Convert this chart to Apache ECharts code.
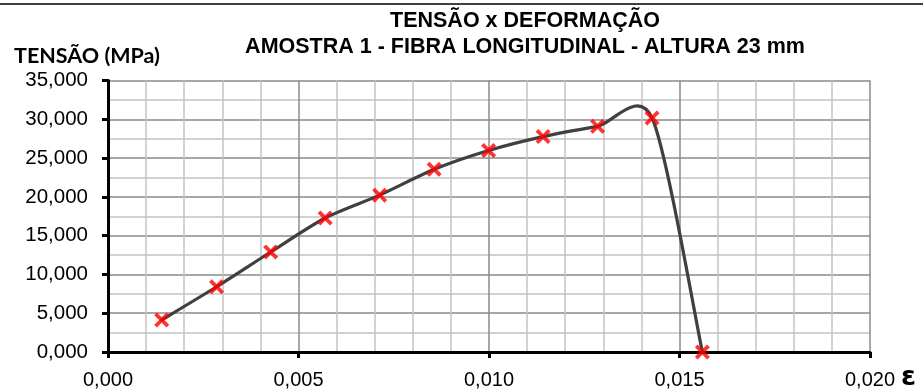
<!DOCTYPE html>
<html>
<head>
<meta charset="utf-8">
<script src="https://cdn.jsdelivr.net/npm/echarts@6/dist/echarts.min.js"></script>
<style>html,body{margin:0;padding:0;background:#fff}#c{width:923px;height:390px}</style>
</head>
<body>
<div id="c"></div>
<script>
// Data
const strain = [0.00141, 0.00285, 0.00427, 0.00570, 0.00713, 0.00856, 0.00999, 0.01142, 0.01285, 0.01428, 0.01560];
const stress = [4.13, 8.41, 12.89, 17.28, 20.22, 23.55, 25.98, 27.77, 29.09, 30.16, 0.0];
const xTicks = [0, 0.005, 0.010, 0.015, 0.020];
const yTicks = [0, 5, 10, 15, 20, 25, 30, 35];
const titleLines = ['TENSÃO x DEFORMAÇÃO', 'AMOSTRA 1 - FIBRA LONGITUDINAL - ALTURA 23 mm'];
const yName = 'TENSÃO (MPa)';
const xName = 'ε';

const pts = strain.map((x, i) => [x, stress[i]]);
const TENSION = 0.135;
const fmt = v => v.toFixed(3).replace('.', ',');

const chart = echarts.init(document.getElementById('c'), null, {renderer: 'canvas'});
chart.setOption({
  animation: false,
  backgroundColor: '#fff',
  title: {
    text: titleLines.join('\n'),
    left: 525, top: 8, textAlign: 'center', padding: 0,
    textStyle: {fontFamily: '"Liberation Sans", Arial, sans-serif', fontWeight: 'bold', fontSize: 21.5, lineHeight: 26, color: '#000'}
  },
  graphic: [
    {type: 'line', shape: {x1: 0, y1: 4, x2: 923, y2: 4}, style: {stroke: '#000', lineWidth: 1.5}},
    {type: 'text', left: 14, top: 45, style: {text: yName, font: 'bold 21.5px Lato, "Open Sans", sans-serif', fill: '#000'}},
    {type: 'text', left: 901, top: 364, style: {text: xName, font: 'bold 27px "DejaVu Sans", sans-serif', fill: '#000'}}
  ],
  grid: {left: 108, right: 53, top: 80.5, bottom: 36, containLabel: false},
  xAxis: {
    type: 'value', min: xTicks[0], max: xTicks[xTicks.length - 1], interval: xTicks[1] - xTicks[0],
    axisLine: {show: true, lineStyle: {color: '#000', width: 3}},
    axisTick: {show: true, length: 6, lineStyle: {color: '#000', width: 3}},
    axisLabel: {formatter: fmt, margin: 18, color: '#000', fontSize: 20, fontFamily: '"Liberation Sans Narrow", "Arial Narrow", "Liberation Sans", sans-serif'},
    splitLine: {show: true, lineStyle: {color: '#8a8a8a', width: 1.5}},
    minorTick: {show: false, splitNumber: 5},
    minorSplitLine: {show: true, lineStyle: {color: '#c4c4c4', width: 1.5}}
  },
  yAxis: {
    type: 'value', min: yTicks[0], max: yTicks[yTicks.length - 1], interval: yTicks[1] - yTicks[0],
    axisLine: {show: true, lineStyle: {color: '#000', width: 3}},
    axisTick: {show: true, length: 6, lineStyle: {color: '#000', width: 3}},
    axisLabel: {formatter: fmt, margin: 20, color: '#000', fontSize: 20.5, fontFamily: '"Liberation Sans", Arial, sans-serif'},
    splitLine: {show: true, lineStyle: {color: '#8a8a8a', width: 1.5}},
    minorTick: {show: false, splitNumber: 2},
    minorSplitLine: {show: true, lineStyle: {color: '#c4c4c4', width: 1.5}}
  },
  series: [
    {
      type: 'custom',
      data: pts,
      z: 3,
      silent: true,
      renderItem: function (params, api) {
        const i = params.dataIndex;
        if (i >= pts.length - 1) return null;
        const P = pts.map(p => api.coord(p));
        const p0 = P[Math.max(i - 1, 0)], p1 = P[i], p2 = P[i + 1], p3 = P[Math.min(i + 2, P.length - 1)];
        const c1 = [p1[0] + (p2[0] - p0[0]) * TENSION, p1[1] + (p2[1] - p0[1]) * TENSION];
        const c2 = [p2[0] - (p3[0] - p1[0]) * TENSION, p2[1] - (p3[1] - p1[1]) * TENSION];
        return {
          type: 'bezierCurve',
          shape: {x1: p1[0], y1: p1[1], cpx1: c1[0], cpy1: c1[1], cpx2: c2[0], cpy2: c2[1], x2: p2[0], y2: p2[1]},
          style: {stroke: '#404040', lineWidth: 3.2, fill: null, lineCap: 'round'}
        };
      }
    },
    {
      type: 'scatter',
      data: pts,
      z: 4,
      symbol: 'path://M0,3.6 L3.6,0 L10,6.4 L16.4,0 L20,3.6 L13.6,10 L20,16.4 L16.4,20 L10,13.6 L3.6,20 L0,16.4 L6.4,10 Z',
      symbolSize: 15,
      itemStyle: {color: '#ff0000'}
    }
  ]
});
</script>
</body>
</html>
